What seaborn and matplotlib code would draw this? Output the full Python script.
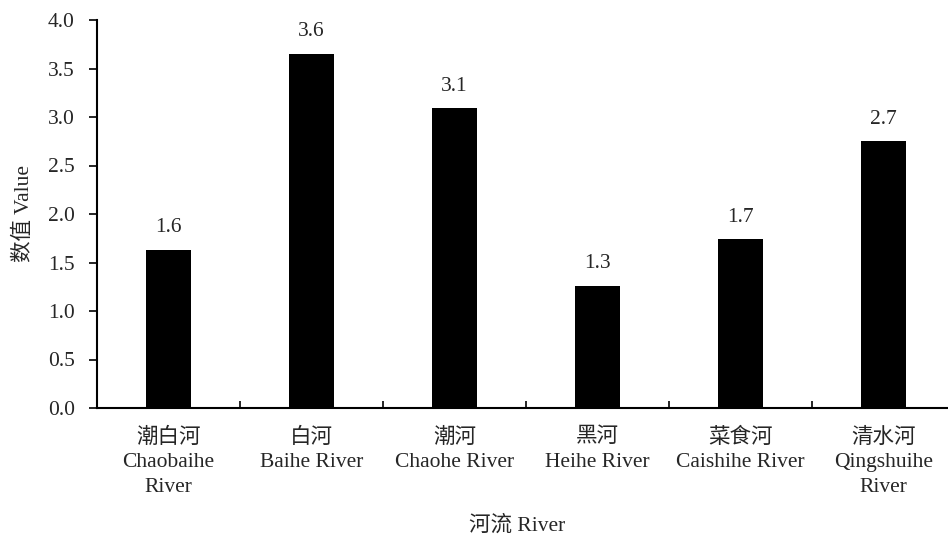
import matplotlib
matplotlib.use("Agg")
import matplotlib.pyplot as plt
import seaborn as sns
import pandas as pd
import numpy as np

rivers = ["潮白河\nChaobaihe\nRiver", "白河\nBaihe River", "潮河\nChaohe River",
          "黑河\nHeihe River", "菜食河\nCaishihe River", "清水河\nQingshuihe\nRiver"]
values = [1.63, 3.65, 3.09, 1.26, 1.74, 2.75]
value_labels = ["1.6", "3.6", "3.1", "1.3", "1.7", "2.7"]
yticks = [0.0, 0.5, 1.0, 1.5, 2.0, 2.5, 3.0, 3.5, 4.0]

sns.set_theme(style="white")
plt.rcParams['font.family'] = ['Liberation Serif', 'Noto Sans CJK SC']
plt.rcParams['axes.unicode_minus'] = False

FS = 15.5
df = pd.DataFrame({"river": rivers, "value": values})

fig = plt.figure(figsize=(9.48, 5.38), dpi=100)
ax = fig.add_axes([97/948, (538-408)/538, 858/948, 388/538])
sns.barplot(data=df, x="river", y="value", color="black", width=0.32,
            saturation=1, ax=ax, edgecolor="black", linewidth=0)

ax.set_xlim(-0.5, len(rivers) - 0.5)
ax.set_ylim(0, 4.0)
ax.set_yticks(yticks)
ax.set_yticklabels([f"{t:.1f}" for t in yticks], fontsize=FS)
ax.set_xticks(range(len(rivers)))
ax.set_xticklabels(rivers, fontsize=FS, linespacing=1.4)
ax.set_xticks(np.arange(0.5, len(rivers) - 0.5, 1.0), minor=True)
ax.tick_params(axis="x", which="major", length=0, pad=14)
ax.tick_params(axis="x", which="minor", direction="in", length=5, width=1.2, color="black", bottom=True)
ax.tick_params(axis="y", which="major", direction="out", length=6, width=1.2, color="black", left=True, pad=10)

for s in ["top", "right"]:
    ax.spines[s].set_visible(False)
for s in ["left", "bottom"]:
    ax.spines[s].set_color("black")
    ax.spines[s].set_linewidth(1.5)

for i, (v, lab) in enumerate(zip(values, value_labels)):
    ax.annotate(lab, (i, v), xytext=(0, 9), textcoords="offset points",
                ha="center", va="bottom", fontsize=FS)

ax.set_ylabel("数值 Value", fontsize=FS)
ax.yaxis.set_label_coords(-63/858, 0.5)
ax.set_xlabel("河流 River", fontsize=FS, va="center")
ax.xaxis.set_label_coords(0.4895, -118/388)
ax.grid(False)

fig.savefig("out.png", dpi=100, facecolor="white")
